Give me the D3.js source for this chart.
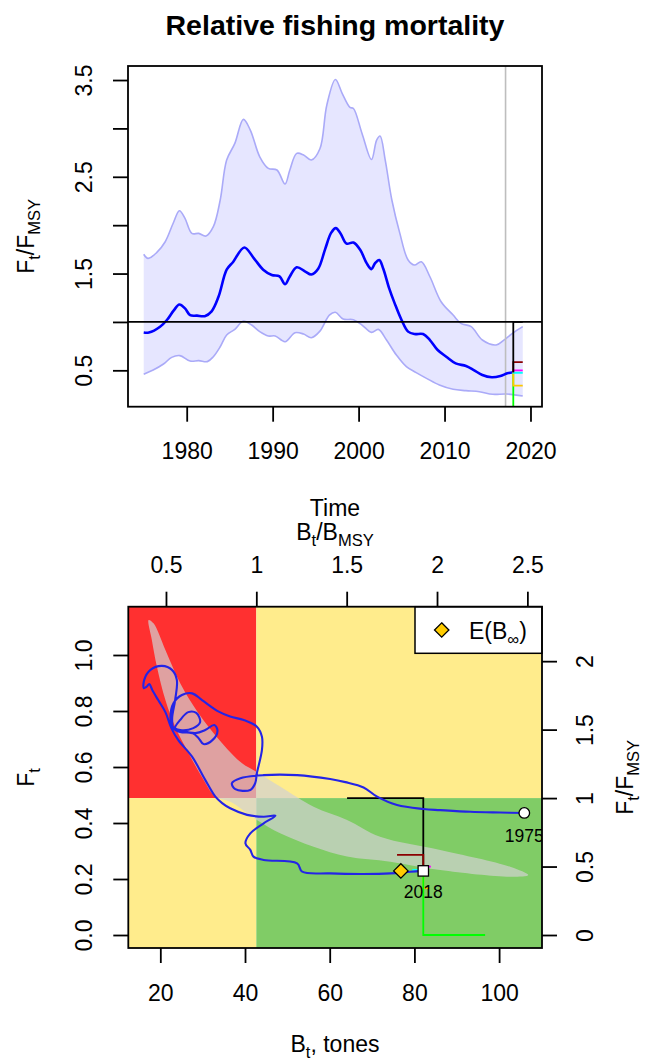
<!DOCTYPE html>
<html>
<head>
<meta charset="utf-8">
<script src="https://cdn.jsdelivr.net/npm/d3@7"></script>
<style>
  body { margin: 0; background: #fff; }
  text { font-family: "Liberation Sans", Arial, sans-serif; fill: #000; }
</style>
</head>
<body>
<svg width="646" height="1062"></svg>
<script>
// Relative fishing mortality (top) and kobe phase plot (bottom)

// ---- data: F/Fmsy estimate over time
var fTime = [1975.0, 1975.6, 1976.9, 1977.7, 1978.5, 1979.15, 1979.8, 1980.4, 1981.2, 1982.1,
  1982.9, 1983.7, 1984.65, 1985.4, 1986.7, 1987.8, 1988.9, 1989.9, 1990.8, 1991.45,
  1992.0, 1992.8, 1993.8, 1994.5, 1995.3, 1996.1, 1996.8, 1997.35, 1997.9, 1998.6,
  1999.4, 2000.2, 2000.95, 2001.5, 2001.9, 2002.4, 2002.86, 2003.56, 2004.2, 2005.0,
  2005.76, 2006.5, 2007.5, 2008.3, 2009.2, 2010.2, 2011.3, 2012.5, 2013.4, 2014.4,
  2015.5, 2016.5, 2017.3, 2018.0];
var fEst = [0.89, 0.89, 0.95, 1.02, 1.12, 1.18, 1.14, 1.07, 1.065, 1.06,
  1.11, 1.26, 1.54, 1.62, 1.77, 1.66, 1.54, 1.485, 1.47, 1.39,
  1.47, 1.565, 1.52, 1.49, 1.55, 1.75, 1.92, 1.97, 1.915, 1.81,
  1.82, 1.743, 1.605, 1.546, 1.605, 1.64, 1.553, 1.347, 1.192, 1.02,
  0.9, 0.875, 0.875, 0.813, 0.71, 0.641, 0.572, 0.545, 0.503, 0.451,
  0.428, 0.441, 0.469, 0.48];

// upper 95% limit
var ciUpTime = [1975.0, 1975.5, 1976.5, 1977.5, 1978.45, 1979.15, 1979.8, 1980.6, 1981.4, 1982.25,
  1983.1, 1983.9, 1984.65, 1985.6, 1986.6, 1987.4, 1988.5, 1989.5, 1990.5, 1991.44,
  1992.0, 1992.8, 1993.6, 1994.5, 1995.5, 1996.3, 1997.3, 1998.1, 1999.0, 1999.4,
  2000.4, 2001.5, 2002.1, 2002.5, 2003.1, 2003.87, 2004.8, 2005.76, 2006.5, 2007.3,
  2008.3, 2009.6, 2011.0, 2011.9, 2013.1, 2014.4, 2016.0, 2016.9, 2017.9, 2019.1];
var ciUp = [1.70, 1.657, 1.716, 1.829, 2.025, 2.149, 2.07, 1.915, 1.915, 1.888,
  1.984, 2.26, 2.673, 2.845, 3.093, 2.983, 2.707, 2.587, 2.57, 2.425,
  2.57, 2.742, 2.725, 2.673, 2.79, 3.24, 3.506, 3.36, 3.217, 3.206,
  2.948, 2.679, 2.879, 2.921, 2.673, 2.26, 1.915, 1.64, 1.588, 1.622,
  1.467, 1.209, 1.071, 0.985, 0.951, 0.813, 0.762, 0.813, 0.882, 0.951];

// lower 95% limit
var ciLoTime = [1975.0, 1976.1, 1977.3, 1978.25, 1979.2, 1980.4, 1981.4, 1982.4, 1983.1, 1983.9,
  1984.65, 1985.6, 1986.6, 1987.56, 1988.5, 1989.5, 1990.3, 1991.44, 1992.6, 1993.6,
  1994.5, 1995.5, 1996.6, 1997.3, 1998.2, 1999.4, 2000.4, 2001.5, 2002.3, 2003.25,
  2004.4, 2005.56, 2006.7, 2007.9, 2009.4, 2011.0, 2012.5, 2014.06, 2015.6, 2017.2,
  2019.1];
var ciLo = [0.46, 0.503, 0.565, 0.634, 0.652, 0.596, 0.6, 0.59, 0.641, 0.744,
  0.865, 0.924, 1.01, 0.968, 0.9, 0.855, 0.855, 0.796, 0.889, 0.875,
  0.837, 0.905, 1.07, 1.1, 1.03, 1.023, 0.968, 0.892, 0.923, 0.813,
  0.658, 0.538, 0.476, 0.417, 0.348, 0.304, 0.29, 0.279, 0.252, 0.255,
  0.235];

var lastObsTime = 2017.1, tNow = 2018.0, tEnd = 2019.1;

// management scenarios
var scenColors = ["#000000", "#8B0000", "#FF00FF", "#00FFFF", "#FFC800", "#00FF00"];
var scenFFmsy = [1.0, 0.585, 0.50, 0.475, 0.342, 0];
var scenBend = [64.1, 75.9, 83.9, 79.5, 83.6, 96.7];

// reference points
var Bmsy = 42.67, Fmsy = 0.489;

// ---- data: biomass / F trajectory
var trajB = [105.95, 100.3, 93.2, 86.1, 82.1, 75.9, 71.2, 68.0, 63.7, 60.1,
  52.3, 44.4, 38.9, 36.9, 37.7, 41.25, 42.4, 42.8, 44.0, 44.0,
  42.8, 39.7, 36.5, 33.8, 29.85, 27.5, 25.1, 23.1, 22.4, 22.8,
  24.7, 27.8, 29.4, 28.5, 26.6, 24.7, 23.5, 25.2, 28.3, 30.6,
  32.75, 33.5, 32.3, 30.2, 29.0, 27.6, 24.7, 23.1, 22.8, 23.5,
  23.9, 22.8, 20.4, 17.6, 16.2, 16.1, 16.7, 17.4, 18.1, 19.5,
  21.2, 22.6, 24.25, 27.5, 30.6, 33.0, 34.6, 36.5, 40.5, 44.4,
  47.2, 44.4, 41.25, 40.1, 41.25, 42.0, 44.4, 52.3, 53.5, 60.1,
  68.0, 74.3, 79.0, 82.1];
var trajF = [0.436, 0.4375, 0.44, 0.446, 0.45, 0.464, 0.494, 0.527, 0.546, 0.557,
  0.571, 0.571, 0.56, 0.542, 0.521, 0.518, 0.542, 0.5775, 0.661, 0.708,
  0.744, 0.768, 0.78, 0.7975, 0.839, 0.863, 0.857, 0.8275, 0.78, 0.746,
  0.732, 0.739, 0.761, 0.793, 0.796, 0.768, 0.739, 0.729, 0.721, 0.732,
  0.75, 0.729, 0.696, 0.682, 0.704, 0.721, 0.725, 0.739, 0.775, 0.839,
  0.911, 0.946, 0.961, 0.946, 0.911, 0.882, 0.886, 0.896, 0.875, 0.839,
  0.796, 0.739, 0.696, 0.637, 0.554, 0.494, 0.471, 0.4525, 0.429, 0.4225,
  0.426, 0.399, 0.363, 0.3275, 0.304, 0.28, 0.268, 0.256, 0.226, 0.22,
  0.218, 0.22, 0.226, 0.229];
var trajYears = ["1975", "2018"];

// confidence region of the reference points
var bananaB = [17.24, 18.4, 21.2, 24.7, 29.0, 34.6, 39.3, 42.8, 48.3, 56.2,
  64.1, 71.9, 86.1, 102.6, 106.9, 102.6, 86.1, 74.3, 64.1, 56.2,
  48.3, 42.8, 36.5, 33.0, 29.8, 26.7, 23.5, 21.2, 19.2, 18.0];
var bananaF = [1.125, 1.113, 1.018, 0.899, 0.792, 0.685, 0.613, 0.582, 0.53, 0.458,
  0.411, 0.351, 0.304, 0.244, 0.214, 0.208, 0.232, 0.262, 0.28, 0.315,
  0.363, 0.411, 0.476, 0.494, 0.565, 0.649, 0.744, 0.839, 0.958, 1.054];

var eBinfB = 76.8, eBinfF = 0.229;

// tick values
var topXTicks = [1980, 1990, 2000, 2010, 2020];
var topYTicks = [0.5, 1.0, 1.5, 2.0, 2.5, 3.0, 3.5];
var topYLabels = [0.5, 1.5, 2.5, 3.5];
var kobeBTicks = [20, 40, 60, 80, 100];
var kobeFTicks = [0.0, 0.2, 0.4, 0.6, 0.8, 1.0];
var kobeBrelTicks = [0.5, 1, 1.5, 2, 2.5];
var kobeFrelTicks = [0, 0.5, 1, 1.5, 2];

// ---- setup
var svg = d3.select("svg"),
  fontSize = 23,
  tickLen = 15,
  topBox = { left: 128, right: 542, top: 66, bottom: 406.7 },
  kobeBox = { left: 128.3, right: 542, top: 606.7, bottom: 948 },
  xT, yT, xK, yK, xKrel, yKrel;

xT = d3.scaleLinear().domain([1973.17, 2021.34]).range([topBox.left, topBox.right]);
yT = d3.scaleLinear().domain([0.124, 3.645]).range([topBox.bottom, topBox.top]);
xK = d3.scaleLinear().domain([12.44, 110.13]).range([kobeBox.left, kobeBox.right]);
yK = d3.scaleLinear().domain([-0.0464, 1.1725]).range([kobeBox.bottom, kobeBox.top]);
// relative axes of the kobe plot
xKrel = xK.copy().domain(xK.domain().map(function (d) { return d / Bmsy; }));
yKrel = yK.copy().domain(yK.domain().map(function (d) { return d / Fmsy; }));

svg.append("rect").attr("width", 646).attr("height", 1062).attr("fill", "#fff");

var defs = svg.append("defs");
addClip("clipTop", topBox);
addClip("clipKobe", kobeBox);

renderTop();
renderKobe();

function addClip(id, box) {
  defs.append("clipPath").attr("id", id)
    .append("rect")
    .attr("x", box.left).attr("y", box.top)
    .attr("width", box.right - box.left).attr("height", box.bottom - box.top);
}

// text with subscripts; parts = [[string, isSub], ...]
function richText(sel, parts, size) {
  var shift = size * 0.28, inSub = false;
  parts.forEach(function (p) {
    var t = sel.append("tspan").text(p[0]);
    if (p[1]) {
      t.attr("font-size", size * 0.72);
      if (!inSub) t.attr("dy", shift);
      inSub = true;
    } else {
      if (inSub) t.attr("dy", -shift);
      inSub = false;
    }
  });
  return sel;
}

function drawBox(box) {
  svg.append("rect")
    .attr("x", box.left).attr("y", box.top)
    .attr("width", box.right - box.left).attr("height", box.bottom - box.top)
    .attr("fill", "none").attr("stroke", "#000").attr("stroke-width", 1.8);
}

function styleAxis(g) {
  g.select(".domain").remove();
  g.selectAll(".tick line").attr("stroke", "#000").attr("stroke-width", 1.8);
  g.selectAll("text").attr("font-size", fontSize).attr("font-family", "Liberation Sans, Arial, sans-serif");
}

function bottomAxis(scale, ticks, y, fmt) {
  var g = svg.append("g").attr("transform", "translate(0," + y + ")")
    .call(d3.axisBottom(scale).tickValues(ticks).tickSize(tickLen).tickFormat(fmt));
  styleAxis(g);
  g.selectAll("text").attr("y", 52.6).attr("dy", 0);
  return g;
}

function topAxis(scale, ticks, y, fmt) {
  var g = svg.append("g").attr("transform", "translate(0," + y + ")")
    .call(d3.axisTop(scale).tickValues(ticks).tickSize(tickLen).tickFormat(fmt));
  styleAxis(g);
  g.selectAll("text").attr("y", -33.4).attr("dy", 0);
  return g;
}

function leftAxis(scale, ticks, x, fmt) {
  var g = svg.append("g").attr("transform", "translate(" + x + ",0)")
    .call(d3.axisLeft(scale).tickValues(ticks).tickSize(tickLen).tickFormat(fmt));
  styleAxis(g);
  g.selectAll("text")
    .attr("transform", "rotate(-90)")
    .attr("x", 0).attr("y", -36.3).attr("dy", 0)
    .attr("text-anchor", "middle");
  return g;
}

function rightAxis(scale, ticks, x, fmt) {
  var g = svg.append("g").attr("transform", "translate(" + x + ",0)")
    .call(d3.axisRight(scale).tickValues(ticks).tickSize(tickLen).tickFormat(fmt));
  styleAxis(g);
  g.selectAll("text")
    .attr("transform", "rotate(-90)")
    .attr("x", 0).attr("y", 51.3).attr("dy", 0)
    .attr("text-anchor", "middle");
  return g;
}

function rotatedLabel(x, y, parts) {
  var t = svg.append("text")
    .attr("transform", "translate(" + x + "," + y + ") rotate(-90)")
    .attr("text-anchor", "middle")
    .attr("font-size", fontSize);
  richText(t, parts, fontSize);
}

function renderTop() {
  var g = svg.append("g").attr("clip-path", "url(#clipTop)"),
    upPts = ciUpTime.map(function (t, i) { return [t, ciUp[i]]; }),
    loPts = ciLoTime.map(function (t, i) { return [t, ciLo[i]]; }),
    estPts = fTime.map(function (t, i) { return [t, fEst[i]]; }),
    line = d3.line()
      .x(function (d) { return xT(d[0]); })
      .y(function (d) { return yT(d[1]); })
      .curve(d3.curveCatmullRom.alpha(0.5)),
    lineStep = d3.line()
      .x(function (d) { return xT(d[0]); })
      .y(function (d) { return yT(d[1]); }),
    fNow = fEst[fEst.length - 1],
    bandPath;

  // confidence band: upper forward, lower backward
  bandPath = line(upPts) + "L" + line(loPts.slice().reverse()).slice(1) + "Z";
  g.append("path").attr("d", bandPath).attr("fill", "#e6e6ff").attr("stroke", "none");
  g.append("path").attr("d", line(upPts)).attr("fill", "none")
    .attr("stroke", "#aaaaf8").attr("stroke-width", 1.6);
  g.append("path").attr("d", line(loPts)).attr("fill", "none")
    .attr("stroke", "#aaaaf8").attr("stroke-width", 1.6);

  // last observation
  g.append("line")
    .attr("x1", xT(lastObsTime)).attr("x2", xT(lastObsTime))
    .attr("y1", topBox.top).attr("y2", topBox.bottom)
    .attr("stroke", "#bebebe").attr("stroke-width", 1.6);

  g.append("path").attr("d", line(estPts)).attr("fill", "none")
    .attr("stroke", "#0000ff").attr("stroke-width", 2.6);

  // F = Fmsy
  g.append("line")
    .attr("x1", topBox.left).attr("x2", topBox.right)
    .attr("y1", yT(1)).attr("y2", yT(1))
    .attr("stroke", "#000").attr("stroke-width", 1.8);

  // scenario lines
  scenFFmsy.slice().reverse().forEach(function (v, k) {
    var i = scenFFmsy.length - 1 - k;
    g.append("path")
      .attr("d", lineStep([[tNow, fNow], [tNow, v], [tEnd, v]]))
      .attr("fill", "none").attr("stroke", scenColors[i]).attr("stroke-width", 1.8);
  });

  drawBox(topBox);
  bottomAxis(xT, topXTicks, topBox.bottom, d3.format("d"));
  leftAxis(yT, topYTicks, topBox.left, function (d) {
    return topYLabels.indexOf(d) >= 0 ? d3.format(".1f")(d) : "";
  });

  svg.append("text").attr("x", 335).attr("y", 35)
    .attr("text-anchor", "middle").attr("font-size", 28.5).attr("font-weight", "bold")
    .text("Relative fishing mortality");

  svg.append("text").attr("x", 335).attr("y", 516)
    .attr("text-anchor", "middle").attr("font-size", fontSize).text("Time");

  rotatedLabel(33.5, (topBox.top + topBox.bottom) / 2,
    [["F", false], ["t", true], ["/F", false], ["MSY", true]]);
}

function renderKobe() {
  var g = svg.append("g").attr("clip-path", "url(#clipKobe)"),
    xB = xK(Bmsy), yF = yK(Fmsy),
    trajPts = trajB.map(function (b, i) { return [b, trajF[i]]; }),
    banPts = bananaB.map(function (b, i) { return [b, bananaF[i]]; }),
    smooth = d3.line()
      .x(function (d) { return xK(d[0]); })
      .y(function (d) { return yK(d[1]); })
      .curve(d3.curveCatmullRom.alpha(0.5)),
    straight = d3.line()
      .x(function (d) { return xK(d[0]); })
      .y(function (d) { return yK(d[1]); }),
    bNow = trajB[trajB.length - 1],
    fNow = trajF[trajF.length - 1],
    first = trajPts[0],
    last = trajPts[trajPts.length - 1],
    r = 7.2;

  // status regions
  g.append("rect").attr("x", kobeBox.left).attr("y", kobeBox.top)
    .attr("width", xB - kobeBox.left).attr("height", yF - kobeBox.top).attr("fill", "#FF3030");
  g.append("rect").attr("x", xB).attr("y", kobeBox.top)
    .attr("width", kobeBox.right - xB).attr("height", yF - kobeBox.top).attr("fill", "#FFEC8C");
  g.append("rect").attr("x", kobeBox.left).attr("y", yF)
    .attr("width", xB - kobeBox.left).attr("height", kobeBox.bottom - yF).attr("fill", "#FFEC8C");
  g.append("rect").attr("x", xB).attr("y", yF)
    .attr("width", kobeBox.right - xB).attr("height", kobeBox.bottom - yF).attr("fill", "#80CC66");

  // reference point confidence region
  g.append("path")
    .attr("d", d3.line()
      .x(function (d) { return xK(d[0]); })
      .y(function (d) { return yK(d[1]); })
      .curve(d3.curveCatmullRomClosed.alpha(0.5))(banPts))
    .attr("fill", "rgba(210,210,210,0.7)").attr("stroke", "none");

  // scenario lines
  scenFFmsy.forEach(function (v, i) {
    var fs = v * Fmsy;
    g.append("path")
      .attr("d", straight([[bNow, fNow], [bNow, fs], [scenBend[i], fs]]))
      .attr("fill", "none").attr("stroke", scenColors[i]).attr("stroke-width", 1.8);
  });

  // trajectory
  g.append("path").attr("d", smooth(trajPts)).attr("fill", "none")
    .attr("stroke", "#2424e6").attr("stroke-width", 2.1);

  // E(B_inf)
  g.append("path")
    .attr("d", diamond(xK(eBinfB), yK(eBinfF), r))
    .attr("fill", "#FFCC00").attr("stroke", "#000").attr("stroke-width", 1.3);

  g.append("circle").attr("cx", xK(first[0])).attr("cy", yK(first[1])).attr("r", 5.3)
    .attr("fill", "#fff").attr("stroke", "#000").attr("stroke-width", 1.3);
  g.append("rect").attr("x", xK(last[0]) - 5.2).attr("y", yK(last[1]) - 5.2)
    .attr("width", 10.4).attr("height", 10.4)
    .attr("fill", "#fff").attr("stroke", "#000").attr("stroke-width", 1.3);

  g.append("text").attr("x", xK(first[0])).attr("y", yK(first[1]) + 29)
    .attr("text-anchor", "middle").attr("font-size", 17.5).text(trajYears[0]);
  g.append("text").attr("x", xK(last[0])).attr("y", yK(last[1]) + 27)
    .attr("text-anchor", "middle").attr("font-size", 17.5).text(trajYears[1]);

  // legend
  var lg = svg.append("g");
  lg.append("rect").attr("x", 415).attr("y", kobeBox.top)
    .attr("width", kobeBox.right - 415).attr("height", 46.6)
    .attr("fill", "#fff").attr("stroke", "#000").attr("stroke-width", 1.5);
  lg.append("path").attr("d", diamond(441.7, 630, r))
    .attr("fill", "#FFCC00").attr("stroke", "#000").attr("stroke-width", 1.3);
  richText(lg.append("text").attr("x", 469).attr("y", 639).attr("font-size", fontSize),
    [["E(B", false], ["\u221E", true], [")", false]], fontSize);

  drawBox(kobeBox);
  bottomAxis(xK, kobeBTicks, kobeBox.bottom, d3.format("d"));
  topAxis(xKrel, kobeBrelTicks, kobeBox.top, function (d) { return String(d); });
  leftAxis(yK, kobeFTicks, kobeBox.left, d3.format(".1f"));
  rightAxis(yKrel, kobeFrelTicks, kobeBox.right, function (d) { return String(d); });

  var tl = svg.append("text").attr("x", 335).attr("y", 540)
    .attr("text-anchor", "middle").attr("font-size", fontSize);
  richText(tl, [["B", false], ["t", true], ["/B", false], ["MSY", true]], fontSize);

  var bl = svg.append("text").attr("x", 335).attr("y", 1052)
    .attr("text-anchor", "middle").attr("font-size", fontSize);
  richText(bl, [["B", false], ["t", true], [", tones", false]], fontSize);

  rotatedLabel(33.5, (kobeBox.top + kobeBox.bottom) / 2, [["F", false], ["t", true]]);
  rotatedLabel(633, (kobeBox.top + kobeBox.bottom) / 2,
    [["F", false], ["t", true], ["/F", false], ["MSY", true]]);
}

function diamond(cx, cy, r) {
  return "M" + cx + "," + (cy - r) + "L" + (cx + r) + "," + cy +
    "L" + cx + "," + (cy + r) + "L" + (cx - r) + "," + cy + "Z";
}
</script>
</body>
</html>
